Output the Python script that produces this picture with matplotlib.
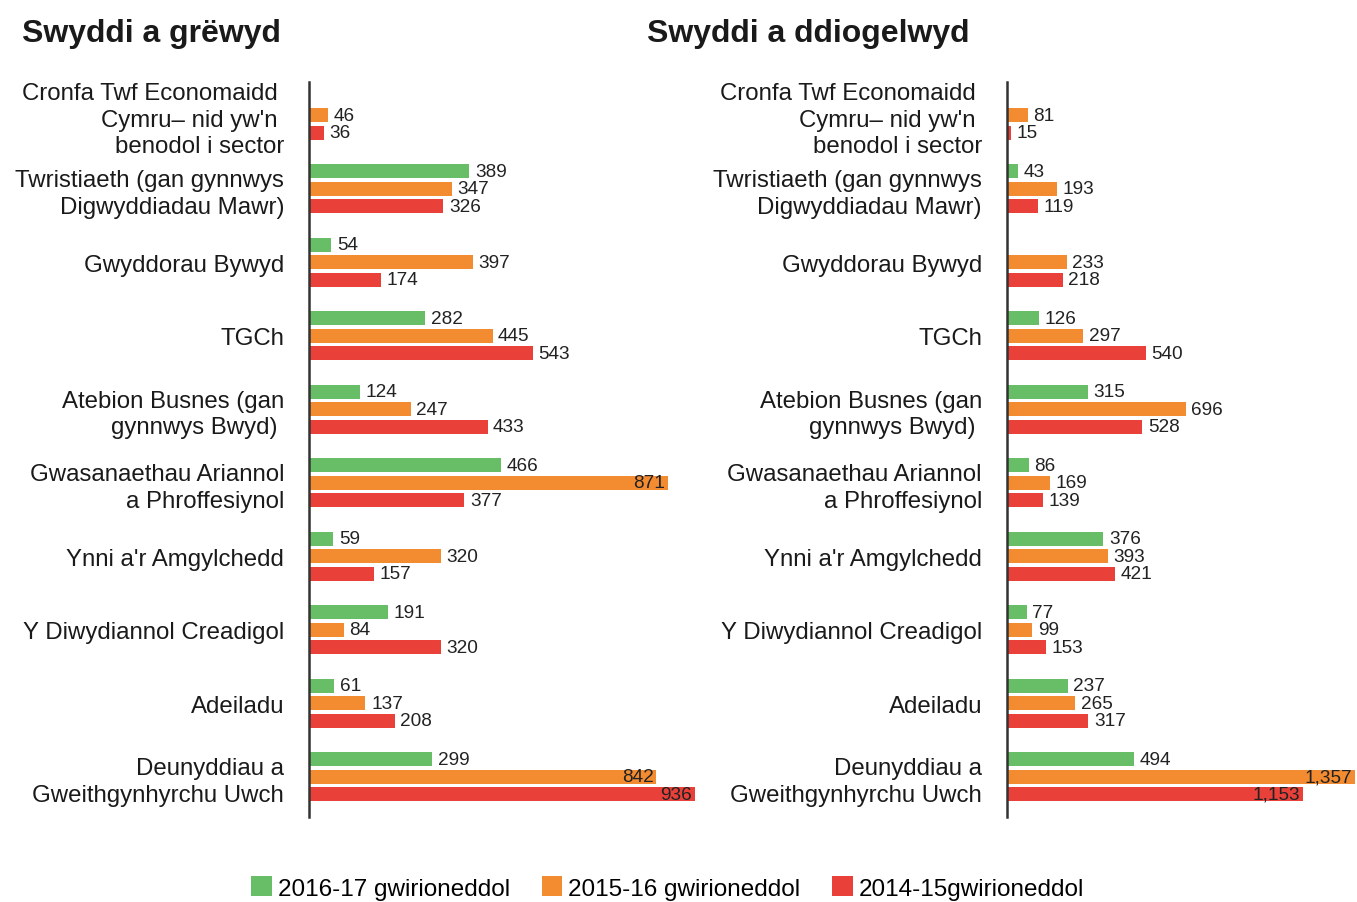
import matplotlib.pyplot as plt
import numpy as np

plt.rcParams['font.family'] = ['Liberation Sans', 'DejaVu Sans']

# categories (top to bottom)
categories = [
    "Cronfa Twf Economaidd \nCymru\u2013 nid yw'n \nbenodol i sector",
    "Twristiaeth (gan gynnwys\nDigwyddiadau Mawr)",
    "Gwyddorau Bywyd",
    "TGCh",
    "Atebion Busnes (gan\ngynnwys Bwyd) ",
    "Gwasanaethau Ariannol\na Phroffesiynol",
    "Ynni a'r Amgylchedd",
    "Y Diwydiannol Creadigol",
    "Adeiladu",
    "Deunyddiau a\nGweithgynhyrchu Uwch",
]

series_names = ["2016-17 gwirioneddol", "2015-16 gwirioneddol", "2014-15gwirioneddol"]
colors = ['#67BE67', '#F38B31', '#E9413A']

# Swyddi a grewyd (jobs created)
created_1617 = [0, 389, 54, 282, 124, 466, 59, 191, 61, 299]
created_1516 = [46, 347, 397, 445, 247, 871, 320, 84, 137, 842]
created_1415 = [36, 326, 174, 543, 433, 377, 157, 320, 208, 936]

# Swyddi a ddiogelwyd (jobs safeguarded)
safe_1617 = [0, 43, 0, 126, 315, 86, 376, 77, 237, 494]
safe_1516 = [81, 193, 233, 297, 696, 169, 393, 99, 265, 1357]
safe_1415 = [15, 119, 218, 540, 528, 139, 421, 153, 317, 1153]

W, H = 1357, 903
fig = plt.figure(figsize=(W / 100, H / 100), dpi=100)

group_step = 4.2
ylim = (41.11, -0.886)


def draw_panel(left_px, width_px, xmax, series, title, title_x):
    ax = fig.add_axes([left_px / W, 1 - 818 / H, width_px / W, 735 / H])
    for j, vals in enumerate(series):
        ys = np.arange(len(categories)) * group_step + j
        ax.barh(ys, vals, height=0.8, color=colors[j], label=series_names[j])
        for y, v in zip(ys, vals):
            if v == 0:
                continue
            txt = f"{v:,}"
            if v > 0.8 * xmax:
                ax.annotate(txt, (v, y), xytext=(-2, 0), textcoords='offset points',
                            ha='right', va='center', fontsize=13.7, color='#222222')
            else:
                ax.annotate(txt, (v, y), xytext=(4, 0), textcoords='offset points',
                            ha='left', va='center', fontsize=13.7, color='#222222')
    ax.set_xlim(0, xmax)
    ax.set_ylim(*ylim)
    ax.set_yticks(np.arange(len(categories)) * group_step + 1)
    ax.set_yticklabels(categories, fontsize=17.3, linespacing=1.27, color='#1a1a1a')
    ax.tick_params(axis='y', length=0, pad=18)
    ax.set_xticks([])
    for s in ['top', 'right', 'bottom']:
        ax.spines[s].set_visible(False)
    ax.spines['left'].set_color('#333333')
    ax.spines['left'].set_linewidth(1.8)
    fig.text(title_x / W, 1 - 34 / H, title, fontsize=23, fontweight='bold',
             ha='left', va='center', color='#1a1a1a')
    return ax


ax1 = draw_panel(309, 412, 412 / 0.4124, [created_1617, created_1516, created_1415],
                 "Swyddi a grëwyd", 22)
ax2 = draw_panel(1007, 350, 350 / 0.2565, [safe_1617, safe_1516, safe_1415],
                 "Swyddi a ddiogelwyd", 647)

handles, labels = ax1.get_legend_handles_labels()
fig.legend(handles, labels, loc='center', bbox_to_anchor=(0.492, 1 - 889 / H), ncol=3,
           frameon=False, fontsize=17.5, handlelength=0.85, handleheight=0.85,
           handletextpad=0.25, columnspacing=1.3)

fig.savefig('out.png', dpi=100)
